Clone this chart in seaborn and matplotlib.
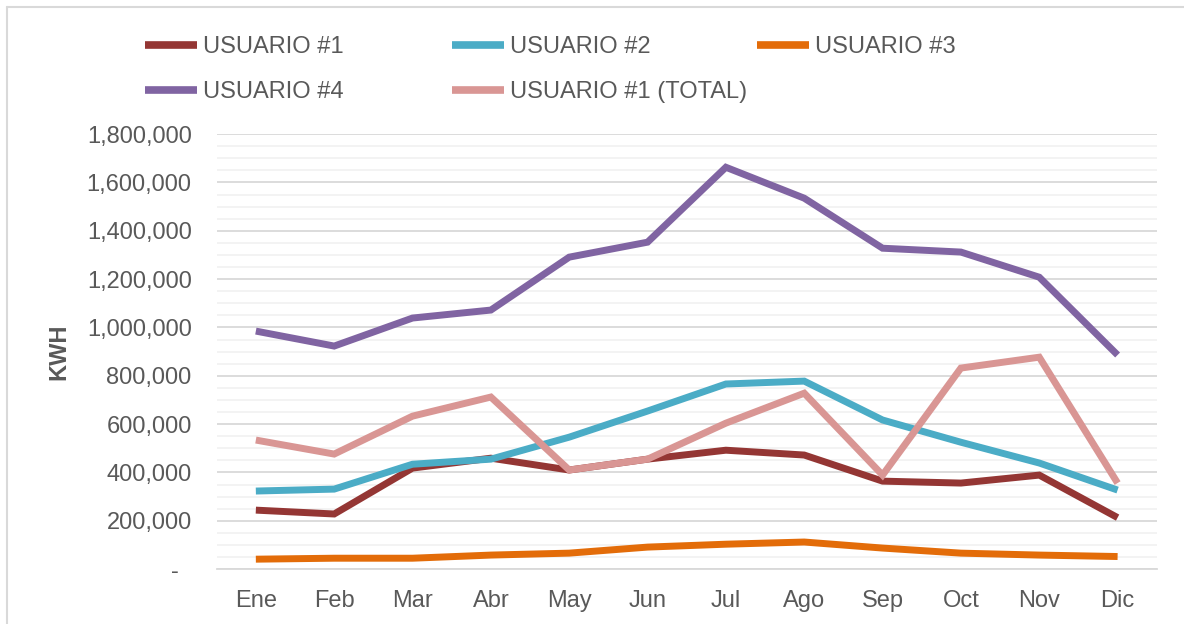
import pandas as pd
import seaborn as sns
import matplotlib.pyplot as plt
from matplotlib.ticker import FuncFormatter, MultipleLocator
from matplotlib.lines import Line2D

# Monthly consumption (kWh)
months = ['Ene', 'Feb', 'Mar', 'Abr', 'May', 'Jun', 'Jul', 'Ago', 'Sep', 'Oct', 'Nov', 'Dic']
usuario_1 = [244000, 228000, 418000, 459000, 410000, 455000, 492000, 472000, 364000, 356000, 389000, 213000]
usuario_2 = [323000, 331000, 434000, 455000, 546000, 654000, 766000, 778000, 617000, 525000, 439000, 327000]
usuario_3 = [41000, 45000, 45000, 58000, 66000, 91000, 103000, 112000, 87000, 66000, 58000, 52000]
usuario_4 = [985000, 923000, 1039000, 1072000, 1291000, 1353000, 1663000, 1535000, 1328000, 1312000, 1208000, 886000]
usuario_1_total = [534000, 476000, 633000, 712000, 410000, 455000, 604000, 728000, 389000, 832000, 877000, 356000]

series_names = ['USUARIO #1', 'USUARIO #2', 'USUARIO #3', 'USUARIO #4', 'USUARIO #1 (TOTAL)']
series_values = [usuario_1, usuario_2, usuario_3, usuario_4, usuario_1_total]
colors = ['#943634', '#4BACC6', '#E36C09', '#8064A2', '#D99694']

rows = []
for name, vals in zip(series_names, series_values):
    for m, v in zip(months, vals):
        rows.append({'Mes': m, 'KWH': v, 'Serie': name})
df = pd.DataFrame(rows)

sns.set_style('white')
plt.rcParams['font.family'] = ['Liberation Sans', 'DejaVu Sans']

fig = plt.figure(figsize=(11.84, 6.24), dpi=100)
ax = fig.add_axes([0.183, 0.088, 0.794, 0.697])

sns.lineplot(data=df, x='Mes', y='KWH', hue='Serie', hue_order=series_names,
             palette=colors, linewidth=5, sort=False, ax=ax, legend=False,
             solid_capstyle='butt', solid_joinstyle='miter')

ax.set_xlim(-0.5, 11.5)
ax.set_ylim(0, 1800000)
ax.yaxis.set_major_locator(MultipleLocator(200000))
ax.yaxis.set_minor_locator(MultipleLocator(50000))
ax.yaxis.set_major_formatter(FuncFormatter(lambda v, p: '-  ' if v == 0 else f'{int(v):,}'))
ax.grid(axis='y', which='major', color='#D9D9D9', linewidth=1.3)
ax.grid(axis='y', which='minor', color='#F2F2F2', linewidth=1.3)
ax.set_axisbelow(True)
for s in ['top', 'right', 'left']:
    ax.spines[s].set_visible(False)
ax.spines['bottom'].set_color('#D9D9D9')
ax.spines['bottom'].set_linewidth(1.3)
ax.tick_params(axis='both', which='both', length=0, labelsize=17, labelcolor='#595959')
ax.tick_params(axis='y', pad=18)
ax.tick_params(axis='x', pad=15)
ax.set_xlabel('')
ax.set_ylabel('KWH', fontsize=17, fontweight='bold', color='#595959', labelpad=12)

# legend laid out in three fixed columns like the original
handles = [Line2D([], [], color=c, linewidth=5.5, solid_capstyle='butt') for c in colors]
col_x = [0.1087, 0.3677, 0.6252]
for i, x in enumerate(col_x):
    idx = [j for j in range(len(series_names)) if j % 3 == i]
    fig.legend([handles[j] for j in idx], [series_names[j] for j in idx],
               loc='upper left', bbox_to_anchor=(x, 0.968), frameon=False,
               fontsize=17, labelcolor='#595959', handlelength=2.2,
               handletextpad=0.25, labelspacing=0.95, borderpad=0.2)

# chart border (top and left edges visible)
fig.add_artist(Line2D([7 / 1184, 1.0], [1 - 7 / 624, 1 - 7 / 624], color='#D9D9D9',
                      linewidth=1.5, transform=fig.transFigure))
fig.add_artist(Line2D([7 / 1184, 7 / 1184], [0.0, 1 - 7 / 624], color='#D9D9D9',
                      linewidth=1.5, transform=fig.transFigure))

fig.savefig('out.png', dpi=100)
